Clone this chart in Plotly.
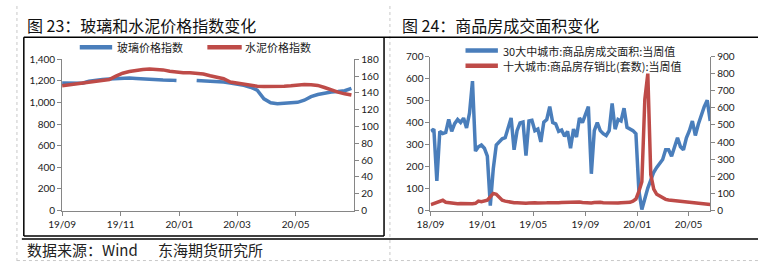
import pandas as pd
import plotly.graph_objects as go

W, H = 758, 267

# ---------------- data: chart 23 (weekly, 2019-09-01 .. 2020-06-28) ----------------
glass_dates = pd.date_range("2019-09-01", periods=44, freq="7D")
glass_index = [1182, 1183, 1176, 1180, 1198, 1208, 1214, 1218, 1222, 1226, 1227,
               1224, 1219, 1214, 1210, 1209, 1208, 1205, None, None, 1205, 1202,
               1198, 1194, 1190, 1182, 1172, 1160, 1142, 1115, 1035, 998, 990,
               994, 997, 1002, 1022, 1055, 1075, 1088, 1097, 1102, 1110, 1132]
cement_index = [148.5, 149.5, 150.5, 151.5, 152, 153, 154, 156, 160, 163.5, 165.5,
                167, 168, 168.5, 168.5, 167.5, 166, 164.5, 164, 164, 163.5, 162.5,
                160.5, 159, 157, 153, 151.5, 150, 148.5, 148, 147.7, 147.5, 147.5,
                148, 148.5, 149.5, 150, 149.8, 149, 146.5, 143.5, 141, 139, 137.5]
glass_name = "玻璃价格指数"
cement_name = "水泥价格指数"

# ---------------- data: chart 24 (weekly, 2018-09-02 .. 2020-06-21) ----------------
house_dates = pd.date_range("2018-09-02", periods=95, freq="7D")
area_30 = [360, 370, 135, 360, 350, 355, 414, 360, 395, 414, 400, 420, 375, 443, 588,
           270, 290, 298, 283, 247, 22, 190, 298, 313, 326, 331, 380, 421, 276, 363,
           398, 402, 250, 407, 410, 363, 370, 312, 402, 414, 472, 400, 394, 360, 366,
           337, 360, 283, 370, 334, 421, 400, 436, 472, 167, 363, 400, 363, 349, 341,
           363, 487, 370, 414, 407, 465, 378, 370, 363, 349, 90, 5, 58, 102, 138,
           174, 196, 215, 232, 276, 276, 247, 290, 331, 290, 276, 330, 363, 407, 341,
           392, 436, 472, 501, 407]
ratio_10 = [35, 40, 45, 55, 60, 48, 45, 42, 40, 40, 41, 40, 40, 38, 40, 42, 55, 52, 55,
            60, 80, 100, 95, 75, 60, 55, 50, 48, 45, 46, 44, 45, 43, 44, 46, 45, 44, 43,
            44, 45, 46, 44, 43, 45, 47, 48, 46, 45, 46, 48, 50, 47, 45, 46, 44, 47, 50,
            48, 46, 45, 47, 46, 45, 44, 46, 45, 46, 48, 55, 67, 112, 168, 650, 800, 210,
            125, 95, 85, 72, 65, 62, 60, 58, 58, 56, 55, 52, 50, 48, 45, 42, 40, 38, 36, 35]
area_name = "30大中城市:商品房成交面积:当周值"
ratio_name = "十大城市:商品房存销比(套数):当周值"

left_ticks = ["2019-09-01", "2019-11-01", "2020-01-01", "2020-03-01", "2020-05-01"]
left_ticktext = ["19/09", "19/11", "20/01", "20/03", "20/05"]
right_ticks = ["2018-09-01", "2019-01-01", "2019-05-01", "2019-09-01", "2020-01-01", "2020-05-01"]
right_ticktext = ["18/09", "19/01", "19/05", "19/09", "20/01", "20/05"]

BLUE = "#4A7EBB"
RED = "#BE4B48"
AX = "#868686"
TXT = "#1a1a1a"
TICKFONT = dict(family="Lato, Liberation Sans, sans-serif", size=10, color=TXT)
CJK = "Noto Sans CJK SC"


def px(x):
    return x / W


def py(y):
    return 1 - y / H


fig = go.Figure()
fig.add_trace(go.Scatter(x=glass_dates, y=glass_index, name=glass_name, mode="lines",
                         line=dict(color=BLUE, width=3.5), xaxis="x", yaxis="y",
                         connectgaps=False))
fig.add_trace(go.Scatter(x=glass_dates, y=cement_index, name=cement_name, mode="lines",
                         line=dict(color=RED, width=3.5), xaxis="x", yaxis="y2"))
fig.add_trace(go.Scatter(x=house_dates, y=area_30, name=area_name, mode="lines",
                         line=dict(color=BLUE, width=3.5), xaxis="x2", yaxis="y3"))
fig.add_trace(go.Scatter(x=house_dates, y=ratio_10, name=ratio_name, mode="lines",
                         line=dict(color=RED, width=3.5), xaxis="x2", yaxis="y4"))

axis_common = dict(showgrid=False, zeroline=False, showline=True, linecolor=AX, linewidth=1,
                   ticks="outside", ticklen=4, tickcolor=AX, tickfont=TICKFONT)

ydom_l = [py(213.3), py(55.7)]
ydom_r = [py(213.3), py(52.7)]

fig.update_layout(
    width=W, height=H, margin=dict(l=0, r=0, t=0, b=0),
    paper_bgcolor="white", plot_bgcolor="rgba(0,0,0,0)", showlegend=False,
    xaxis=dict(domain=[px(49), px(346.7)], range=["2019-09-01", "2020-07-01"], type="date",
               tickvals=left_ticks, ticktext=left_ticktext, anchor="y", **axis_common),
    yaxis=dict(domain=ydom_l, range=[0, 1400], tickvals=list(range(0, 1401, 200)),
               tickformat=",d", anchor="x", **axis_common),
    yaxis2=dict(range=[0, 180], tickvals=list(range(0, 181, 20)), overlaying="y",
                side="right", anchor="x", **axis_common),
    xaxis2=dict(domain=[px(424.3), px(709.3)], range=["2018-09-01", "2020-06-21"], type="date",
                tickvals=right_ticks, ticktext=right_ticktext, anchor="y3", **axis_common),
    yaxis3=dict(domain=ydom_r, range=[0, 700], tickvals=list(range(0, 701, 100)),
                anchor="x2", **axis_common),
    yaxis4=dict(range=[0, 900], tickvals=list(range(0, 901, 100)), overlaying="y3",
                side="right", anchor="x2", **axis_common),
)

shapes = []


def hline(x0, x1, y, color="black", width=1.5, dash=None):
    shapes.append(dict(type="line", xref="paper", yref="paper", x0=px(x0), x1=px(x1),
                       y0=py(y), y1=py(y), line=dict(color=color, width=width, dash=dash)))


def vline(x, y0, y1, color="black", width=1.5, dash=None):
    shapes.append(dict(type="line", xref="paper", yref="paper", x0=px(x), x1=px(x),
                       y0=py(y0), y1=py(y1), line=dict(color=color, width=width, dash=dash)))


# dashed cell borders
vline(3, 0, 267, color="#c8c8c8", width=1, dash="dot")
vline(383, 0, 265.5, color="#c8c8c8", width=1, dash="dot")
hline(3, 758, 265.5, color="#c8c8c8", width=1, dash="dot")
# frames
hline(10, 758, 32.5)
vline(10, 32.5, 240)
vline(377, 32.5, 240)
hline(10, 377, 240)
hline(8, 758, 243)

# legend samples
hline(67, 100, 43, color=BLUE, width=4.5)
hline(197, 232, 43, color=RED, width=4.5)
hline(460, 493, 46.5, color=BLUE, width=4.5)
hline(460, 493, 62.3, color=RED, width=4.5)

annotations = []


def text(x, y, s, size=11, family=CJK, color=TXT):
    annotations.append(dict(xref="paper", yref="paper", x=px(x), y=py(y), text=s,
                            showarrow=False, xanchor="left", yanchor="middle",
                            font=dict(family=family, size=size, color=color)))


text(103, 43, glass_name)
text(233, 43, cement_name)
text(496, 46.5, area_name)
text(496, 62.3, ratio_name)
text(11, 20, "图 23：玻璃和水泥价格指数变化", size=16, color="#111")
text(393, 20, "图 24：商品房成交面积变化", size=16, color="#111")
text(11, 254, "数据来源：Wind", size=15, color="#222")
text(145, 254, "东海期货研究所", size=15, color="#222")

fig.update_layout(shapes=shapes, annotations=annotations)
fig.write_html("out.html")
